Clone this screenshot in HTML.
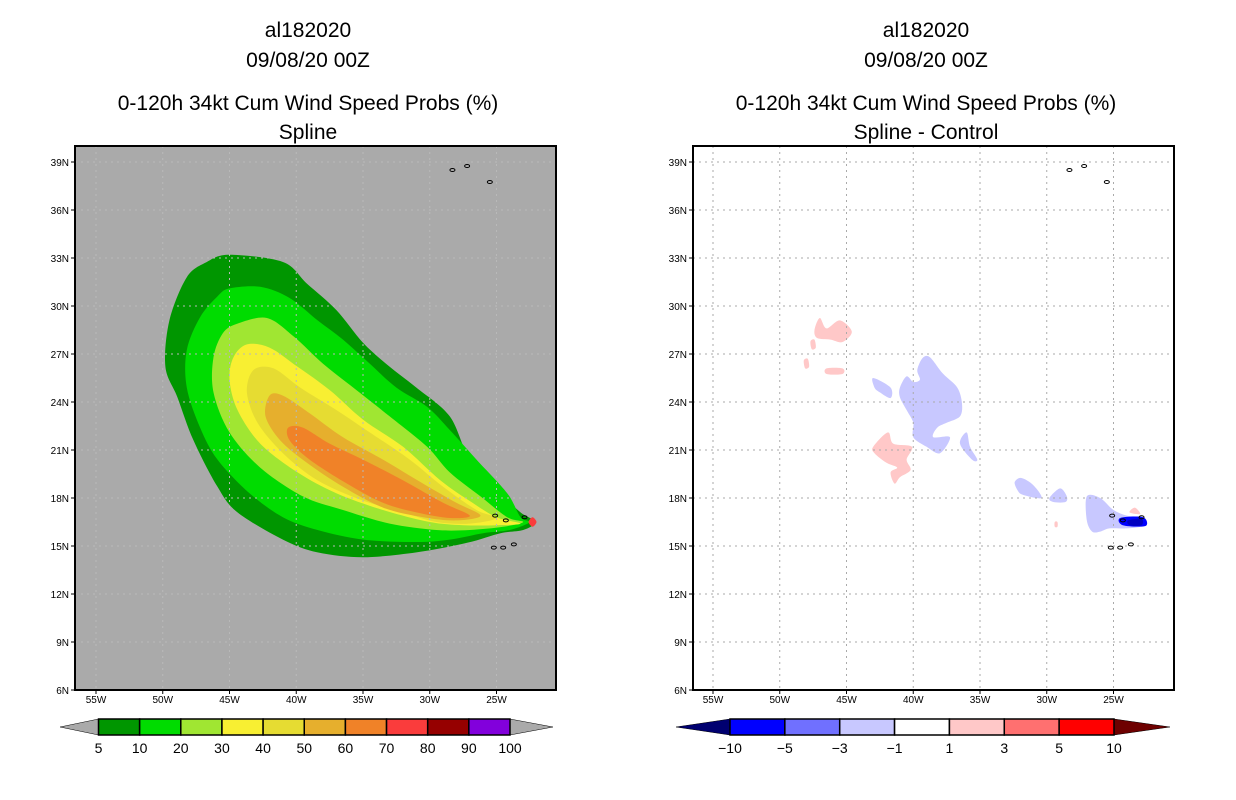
<!DOCTYPE html>
<html><head><meta charset="utf-8">
<style>
html,body{margin:0;padding:0;background:#fff;}
svg{display:block;font-family:"Liberation Sans",sans-serif;}
</style></head>
<body>
<svg id="chart" width="1236" height="800" viewBox="0 0 1236 800" xmlns="http://www.w3.org/2000/svg">
<g id="titles" font-size="21" text-anchor="middle" fill="#000">
<text x="308" y="37">al182020</text>
<text x="308" y="67">09/08/20 00Z</text>
<text x="308" y="110">0-120h 34kt Cum Wind Speed Probs (%)</text>
<text x="308" y="139">Spline</text>
<text x="926" y="37">al182020</text>
<text x="926" y="67">09/08/20 00Z</text>
<text x="926" y="110">0-120h 34kt Cum Wind Speed Probs (%)</text>
<text x="926" y="139">Spline - Control</text>
</g>
</svg>
<script>
// ---- data ----
const latTicks=[6,9,12,15,18,21,24,27,30,33,36,39];
const lonTicks=[55,50,45,40,35,30,25];
const probLevels=["5","10","20","30","40","50","60","70","80","90","100"];
const probColors=["#009600","#00dc00","#a0e632","#f8ef32","#e6dc32","#e6af2d","#f08228","#fa3c3c","#960000","#8200dc"];
const diffLevels=["-10","-5","-3","-1","1","3","5","10"];
const diffColors=["#0000ff","#7070ff","#c8c8ff","#ffffff","#ffc8c8","#ff7070","#ff0000"];
// contour polygons as [lonW, latN]
const prob5=[[45,33.2],[41,32.75],[39.2,31.4],[37,29.75],[35,27.7],[33,26.2],[31,24.9],[28.5,23.1],[27,20.4],[24.7,18.3],[23.2,17.1],[22.1,16.5],[23,16],[24.7,15.8],[27.2,15.2],[31,14.6],[35,14.3],[38.4,14.6],[41,15.4],[44.4,17.1],[45.9,18.7],[47.7,21.6],[48.9,24.3],[49.8,26.2],[49.5,29.1],[48.2,31.8],[46.7,32.75]];
const prob10=[[45,31.1],[42.7,31.2],[40.5,30.5],[38.4,29.1],[36.5,27.9],[34.5,26.4],[32.5,24.9],[30.2,23.7],[28.5,22.25],[26.5,20.4],[24.2,18.3],[23.2,16.8],[22.5,16.5],[24,16],[26,15.8],[28.5,15.4],[31,15.25],[35,15.4],[38.4,16],[41,16.8],[43.5,18.3],[45.9,20.4],[47.2,22.4],[48.2,24.9],[48.2,27.25],[47.2,29.3],[45.9,30.6]];
const prob20=[[44.4,28.9],[42.2,29.25],[40.2,28.1],[38,26.4],[35.5,24.75],[33,23.1],[30.2,21.2],[28.5,19.6],[26.2,18.1],[24.2,16.8],[23,16.5],[24.5,16.2],[27,16],[29.5,16],[33,16.4],[36.5,17.25],[39.5,18.1],[42.7,19.9],[45,22.1],[46.2,24.6],[46.2,26.8],[45.5,28.3]];
const prob30=[[43.7,27.6],[42,27.4],[39.9,26.2],[37.5,24.75],[35,22.9],[32,21.2],[29.2,19.1],[26.8,17.7],[25,16.8],[23.2,16.4],[25,16.3],[27.5,16.3],[30,16.5],[33.5,17.25],[37,18.3],[39.9,19.6],[42.7,21.4],[44.4,23.5],[45,25.4],[44.7,26.8]];
const prob40=[[43.2,26],[41.7,26.1],[39.7,24.9],[37,23.5],[34.5,22.1],[31.5,20.4],[29,18.7],[26.5,17.25],[25,16.75],[27,16.4],[29.5,16.5],[32,17.1],[35.2,17.9],[38.4,19.1],[41,20.8],[42.9,22.7],[43.7,24.6]];
const prob50=[[42,24.4],[41,24.4],[39,23.3],[36.5,21.8],[33.5,20.4],[30.5,18.9],[28,17.7],[26.2,16.9],[28,16.6],[30.5,16.8],[33.5,17.4],[36.5,18.7],[39.2,20.2],[41.2,21.6],[42.3,23.1]];
const prob60=[[40.6,22.4],[39.5,22.4],[37.5,21.4],[35,20.4],[32,19.1],[29,17.7],[27,16.9],[28.5,16.75],[31,17.1],[33.5,17.7],[36.2,18.9],[39,20.4],[40.5,21.6]];
const probCore=[[22.6,16.5],[22.3,16.8],[22.0,16.5],[22.3,16.2]];
const diffPos=[
 [[47.4,28.5],[47,29.25],[46.5,28.6],[45.5,29.1],[44.6,28.4],[45.3,27.75],[46.2,27.9],[47.2,28]],
 [[47.7,27.8],[47.4,27.9],[47.3,27.4],[47.6,27.3]],
 [[48.2,26.6],[47.9,26.7],[47.8,26.2],[48.1,26.1]],
 [[46.5,26.1],[45.3,26.1],[45.3,25.75],[46.5,25.75]],
 [[43,21.2],[41.9,22.1],[41.5,21.4],[40.1,21.2],[40.5,20.4],[40.2,19.75],[41,19.3],[41.4,18.9],[41.7,19.6],[41.2,19.9],[42,20.2],[42.9,20.8]],
 [[23.8,17.1],[23.4,17.4],[23.0,17.0]],
 [[29.4,16.5],[29.2,16.5],[29.2,16.2],[29.4,16.2]]
];
const diffNeg=[
 [[39.7,26],[39.3,26.75],[38.75,26.8],[37.8,25.8],[36.7,24.9],[36.35,23.9],[36.5,23.1],[37.5,22.7],[38.2,22.4],[38.5,21.8],[37.25,21.8],[38,20.8],[39,21.2],[40,21.8],[40,22.7],[40.5,23.5],[41,24.3],[41,24.9],[40.5,25.6],[40,25.25],[39.5,25.4]],
 [[43,25.5],[41.7,24.9],[41.7,24.25],[42.5,24.6],[42.9,24.9]],
 [[36,22.1],[35.75,21.2],[35.2,20.4],[35.6,20.4],[36.5,21.4]],
 [[32.4,19],[31.9,19.25],[31,18.8],[30.4,18],[31.8,18.2],[32.2,18.5]],
 [[29.8,18],[29,18.6],[28.5,18.1],[28.6,17.75],[29.5,17.75]],
 [[27,18.1],[26,18],[25,17.25],[24,16.9],[22.8,16.8],[22.5,16.5],[23,16.2],[24,16.1],[25.3,16.1],[26,15.9],[26.6,15.9],[27,16.6]]
];
const diffNeg3=[[24.5,16.75],[22.8,16.8],[22.6,16.25],[24.3,16.3]];
const diffNeg5=[[23.9,16.6],[22.9,16.7],[22.9,16.3],[23.8,16.3]];
const islands=[[28.3,38.5],[27.2,38.75],[25.5,37.75],[25.1,16.9],[24.3,16.6],[22.9,16.8],[24.5,14.9],[23.7,15.1],[25.2,14.9]];

// ---- drawing ----
const NS="http://www.w3.org/2000/svg";
const svg=document.getElementById('chart');
function el(tag,attrs,parent){const e=document.createElementNS(NS,tag);for(const k in attrs)e.setAttribute(k,attrs[k]);(parent||svg).appendChild(e);return e;}
const PX_DEG_X=13.35, PX_DEG_Y=16;
function makeAxes(x55){return {x:w=>x55+(55-w)*PX_DEG_X,y:lat=>690-(lat-6)*PX_DEG_Y};}
function smoothPath(poly,ax){
  const P=poly.map(p=>[ax.x(p[0]),ax.y(p[1])]);const n=P.length;
  let d='M'+P[0][0].toFixed(1)+','+P[0][1].toFixed(1);
  for(let i=0;i<n;i++){
    const p0=P[(i-1+n)%n],p1=P[i],p2=P[(i+1)%n],p3=P[(i+2)%n];
    const t=0.16;
    const c1=[p1[0]+(p2[0]-p0[0])*t,p1[1]+(p2[1]-p0[1])*t];
    const c2=[p2[0]-(p3[0]-p1[0])*t,p2[1]-(p3[1]-p1[1])*t];
    d+=' C'+c1.map(v=>v.toFixed(1)).join(',')+' '+c2.map(v=>v.toFixed(1)).join(',')+' '+p2[0].toFixed(1)+','+p2[1].toFixed(1);
  }
  return d+'Z';
}

function panel(prefix,frameX,x55,bg,gridColor){
  const ax=makeAxes(x55);
  const g=el('g',{});
  
  
  const r=el('rect',{x:frameX,y:146,width:481,height:544,fill:bg},g);
  
  
  return {g,ax,frameX,gridColor,prefix};
}
function finishPanel(P){
  const {g,ax,frameX,gridColor,prefix}=P;
  const grid=el('g',{stroke:gridColor,'stroke-width':1,'stroke-dasharray':'2,4',fill:'none'},g);
  
  
  lonTicks.forEach(w=>{el('line',{x1:ax.x(w),x2:ax.x(w),y1:146,y2:690},grid);});
  latTicks.forEach(l=>{if(l>6)el('line',{x1:frameX,x2:frameX+481,y1:ax.y(l),y2:ax.y(l)},grid);});
  const isl=el('g',{fill:'none',stroke:'#000','stroke-width':1},g);
  
  
  islands.forEach(p=>{el('ellipse',{cx:ax.x(p[0]),cy:ax.y(p[1]),rx:2.5,ry:1.5},isl);});
  const fr=el('rect',{x:frameX,y:146,width:481,height:544,fill:'none',stroke:'#000','stroke-width':2},g);
  
  
  const lab=el('g',{'font-size':10,fill:'#000'},g);
  
  
  latTicks.forEach(l=>{
    const t=el('text',{x:frameX-6,y:ax.y(l)+4,'text-anchor':'end'},lab);t.textContent=l+'N';
    
    
    el('line',{x1:frameX-4,x2:frameX,y1:ax.y(l),y2:ax.y(l),stroke:'#000'},lab);
  });
  lonTicks.forEach(w=>{
    const t=el('text',{x:ax.x(w),y:703,'text-anchor':'middle'},lab);t.textContent=w+'W';
    
    
    el('line',{x1:ax.x(w),x2:ax.x(w),y1:690,y2:694,stroke:'#000'},lab);
  });
}
const L=panel('left',75,96,'#aaaaaa','#b9b9b9');
const probPolys=[prob5,prob10,prob20,prob30,prob40,prob50,prob60];
probPolys.forEach((poly,i)=>{
  const p=el('path',{d:smoothPath(poly,L.ax),fill:probColors[i]},L.g);
  
  
});
const core=el('path',{d:smoothPath(probCore,L.ax),fill:'#fa3c3c'},L.g);


finishPanel(L);
const R=panel('right',693,713,'#ffffff','#aaaaaa');
diffPos.forEach(poly=>{
  const p=el('path',{d:smoothPath(poly,R.ax),fill:'#ffc8c8'},R.g);
  
  
});
diffNeg.forEach(poly=>{
  const p=el('path',{d:smoothPath(poly,R.ax),fill:'#c8c8ff'},R.g);
  
  
});
const n3=el('path',{d:smoothPath(diffNeg3,R.ax),fill:'#0000ff'},R.g);


const n5=el('path',{d:smoothPath(diffNeg5,R.ax),fill:'#0000c0'},R.g);


finishPanel(R);

function colorbar(prefix,x0,x1,tipL,tipR,levels,colors,tipColL,tipColR){
  const g=el('g',{});
  
  
  const n=colors.length, w=(x1-x0)/n;
  const tl=el('polygon',{points:`${tipL},727 ${x0},719 ${x0},735`,fill:tipColL,stroke:'#000','stroke-width':0.5},g);
  
  
  const tr=el('polygon',{points:`${tipR},727 ${x1},719 ${x1},735`,fill:tipColR,stroke:'#000','stroke-width':0.5},g);
  
  
  colors.forEach((c,i)=>{
    const r=el('rect',{x:x0+i*w,y:719,width:w,height:16,fill:c,stroke:'#000','stroke-width':1.5},g);
    
    
  });
  levels.forEach((lv,i)=>{
    const t=el('text',{x:x0+i*w,y:753,'text-anchor':'middle','font-size':14},g);
    t.textContent=lv.replace('-','\u2212');
    
    
  });
}
colorbar('left',98.5,510,60,553,probLevels,probColors,'#aaaaaa','#aaaaaa');
colorbar('right',730,1114,676,1170,diffLevels,diffColors,'#000070','#6e0000');
</script>
</body></html>
